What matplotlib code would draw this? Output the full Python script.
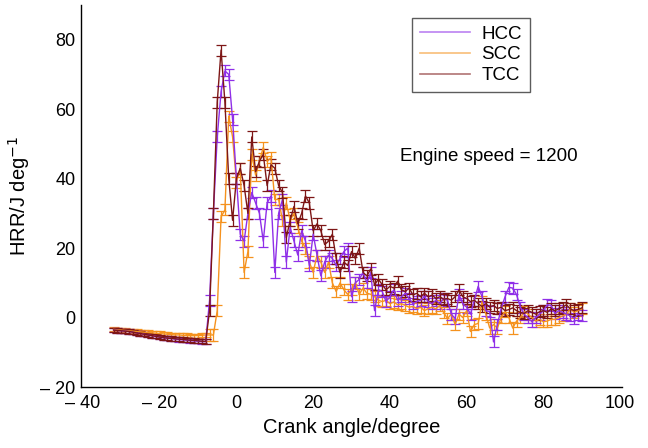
import numpy as np
import matplotlib.pyplot as plt
from matplotlib.lines import Line2D

plt.rcParams['font.family'] = ['Liberation Sans', 'DejaVu Sans']

# crank angle, 1 degree steps
angle = np.arange(-32, 91)

# pre-combustion part (-32 .. -8) then combustion part (-7 .. 90)
hcc = [-3.6, -3.7, -3.8, -3.9, -4.0, -4.2, -4.4, -4.6, -4.8, -5.0, -5.2, -5.4, -5.6,
       -5.8, -5.9, -6.0, -6.2, -6.3, -6.4, -6.5, -6.6, -6.7, -6.8, -6.9, -6.9,
       5, 30, 52, 65, 71, 70, 57, 40, 24, 22, 30, 36, 33, 30, 22, 33, 35, 13, 30, 34,
       16, 26, 22, 18, 25, 22, 15, 24, 18, 12, 16, 18, 17, 15, 17, 19, 20, 6, 10, 11,
       13, 10, 13, 2, 8, 7.5, 4.6, 6, 8, 5, 6, 7, 5.5, 4, 4.6, 5, 6, 4.6, 4, 5, 4,
       5.5, 5, 1, -0.3, 6.6, 4, 3, 1, 5, 9, 6, 2, 1.7, -7, -2, 2.6, 6, 8.7, 8.5, 6.6,
       3, 0.9, 0, -1.2, 0, 1, 2, 3.7, 3.5, 1.2, 2, 1.5, 1, 0.5, -0.2, 1, 0.5]
scc = [-3.4, -3.5, -3.6, -3.7, -3.8, -3.9, -4.0, -4.1, -4.2, -4.3, -4.4, -4.5, -4.6,
       -4.7, -4.8, -4.9, -5.0, -5.0, -5.1, -5.1, -5.2, -5.2, -5.2, -5.1, -5.0,
       -5.0, -5.0, 2, 29, 31, 58, 52, 39, 43, 13, 19, 47, 41, 45, 49, 45, 46, 34, 34,
       28, 33, 28, 30, 26, 22, 20, 16, 13, 18, 16, 13, 16, 10, 7.5, 10, 8, 6.7, 8, 10,
       6.7, 8.5, 7, 6.7, 6, 5, 4.6, 5, 4, 4.5, 3.7, 4, 3.5, 3, 3.2, 2.6, 3, 2, 2.6, 3,
       2.5, 3.5, 1.5, -0.3, 1, -2, 1, 0, 2, -4, -2, -1.7, 4.6, 1, -3, -2, -3, 0, 1.7,
       0, -3, -1, 0, 1.7, 1, 0, -1, -0.5, -1.2, -1, -0.5, -0.5, 0, 0.5, 0.9, 2.6, 1.5,
       2, 2.5]
tcc = [-3.6, -3.7, -3.8, -3.9, -4.0, -4.2, -4.4, -4.6, -4.8, -5.0, -5.2, -5.4, -5.6,
       -5.8, -5.9, -6.0, -6.1, -6.2, -6.3, -6.4, -6.5, -6.6, -6.7, -6.8, -6.9,
       2, 30, 62, 77, 62, 40, 28, 40, 43, 38, 30, 52, 42, 45, 47, 38, 44, 43, 38, 36,
       23, 28, 32, 27, 30, 35, 33, 25, 27, 25, 21, 22, 24, 17, 13, 16, 15, 19, 17, 20,
       13, 12, 14, 9.5, 11, 9.5, 8, 9, 8.5, 10.5, 8, 7.5, 8.5, 6.5, 7, 6, 7, 6, 6.5,
       5.5, 6, 5.3, 5.5, 5, 6, 8, 6, 5.5, 4.6, 5, 4, 3.2, 4, 3, 3.5, 2.6, 3, 2, 2.3,
       2.8, 2, 1.5, 1.2, 2, 1.5, 1, 1.7, 2, 1.5, 2.5, 2, 2.5, 3, 3.7, 2.5, 2, 2.3, 2.8]

series = ['HCC', 'SCC', 'TCC']
colors = {'HCC': '#8f2fe8', 'SCC': '#f5921e', 'TCC': '#7d1616'}
values = {'HCC': hcc, 'SCC': scc, 'TCC': tcc}

fig = plt.figure(figsize=(6.48, 4.48), dpi=100)
ax = fig.add_axes([0.125, 0.136, 0.835, 0.853])

err = np.where(angle < -7, 0.6, 1.6)
for name in ['SCC', 'HCC', 'TCC']:
    ax.errorbar(angle, values[name], yerr=err, color=colors[name], lw=1.0,
                elinewidth=0.9, capsize=3.8, capthick=0.9)

ax.set_xlim(-40.5, 100.5)
ax.set_ylim(-20, 90)
xt = [-40, -20, 0, 20, 40, 60, 80, 100]
yt = [-20, 0, 20, 40, 60, 80]
ax.set_xticks(xt)
ax.set_xticklabels([f'\u2013 {-v}' if v < 0 else str(v) for v in xt])
ax.set_yticks(yt)
ax.set_yticklabels([f'\u2013 {-v}' if v < 0 else str(v) for v in yt])
ax.tick_params(length=0, labelsize=13, pad=6)
ax.tick_params(axis='y', pad=4)
for s in ['top', 'right']:
    ax.spines[s].set_visible(False)
for s in ['left', 'bottom']:
    ax.spines[s].set_linewidth(1.0)

ax.set_xlabel('Crank angle/degree', fontsize=14.5, labelpad=4)
ax.set_ylabel('HRR/J deg$^{-1}$', fontsize=14.5, labelpad=6)

ax.text(42.5, 46.5, 'Engine speed = 1200', fontsize=13.5, ha='left', va='center')

handles = [Line2D([], [], color=colors[n], lw=1.2, alpha=0.6) for n in series]
leg = ax.legend(handles, series, loc='upper left', bbox_to_anchor=(0.612, 0.966),
                borderaxespad=0, fontsize=13.5, frameon=True, fancybox=False,
                handlelength=2.7, borderpad=0.4, labelspacing=0.2, handletextpad=0.6)
leg.get_frame().set_edgecolor('#333333')
leg.get_frame().set_linewidth(1.0)

fig.savefig('out.png', dpi=100)
